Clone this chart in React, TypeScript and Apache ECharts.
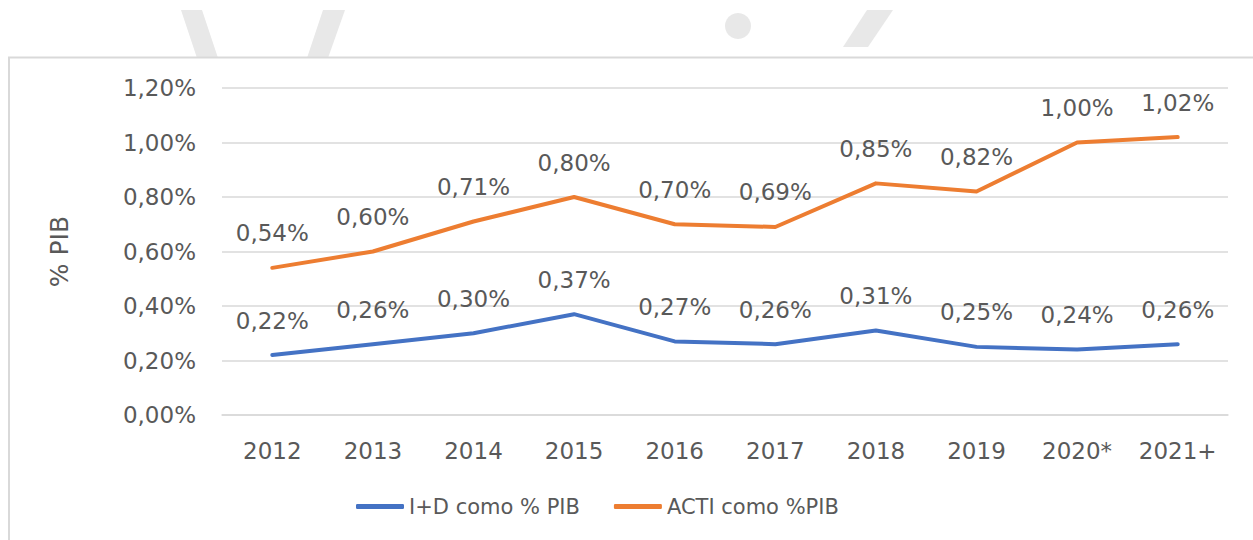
import React, { useEffect, useRef } from "react";
import * as echarts from "echarts";

const categories = ["2012", "2013", "2014", "2015", "2016", "2017", "2018", "2019", "2020*", "2021+"];
const idValues = [0.22, 0.26, 0.3, 0.37, 0.27, 0.26, 0.31, 0.25, 0.24, 0.26];
const actiValues = [0.54, 0.6, 0.71, 0.8, 0.7, 0.69, 0.85, 0.82, 1.0, 1.02];
const seriesNames = ["I+D como % PIB", "ACTI como %PIB"];
const yAxisName = "% PIB";

const FONT = "DejaVu Sans";
const TEXT = "#595959";
const fmt = (v: number) => v.toFixed(2).replace(".", ",") + "%";

export default function App() {
  const ref = useRef<HTMLDivElement>(null);
  useEffect(() => {
    if (!ref.current) return;
    const chart = echarts.init(ref.current, undefined, { renderer: "svg" });
    const wm = "#e8e8e8";
    const label = {
      show: true,
      position: "top",
      distance: 22,
      color: TEXT,
      fontSize: 23,
      fontFamily: FONT,
      formatter: (p: any) => fmt(p.value),
    };
    chart.setOption({
      animation: false,
      backgroundColor: "#ffffff",
      textStyle: { fontFamily: FONT },
      grid: { left: 222, right: 25, top: 88, bottom: 125 },
      graphic: [
        { type: "polygon", shape: { points: [[181, 10], [202, 10], [218, 58], [197, 58]] }, style: { fill: wm }, z: -10 },
        { type: "polygon", shape: { points: [[323, 10], [345, 10], [328, 58], [307, 58]] }, style: { fill: wm }, z: -10 },
        { type: "circle", shape: { cx: 738, cy: 26, r: 13 }, style: { fill: wm }, z: -10 },
        { type: "polygon", shape: { points: [[867, 10], [893, 10], [868, 47], [843, 47]] }, style: { fill: wm }, z: -10 },
        {
          type: "polyline",
          shape: { points: [[9, 560], [9, 57.5], [1270, 57.5]] },
          style: { stroke: "#d9d9d9", lineWidth: 2, fill: "none" },
          z: -5,
        },
      ],
      legend: {
        bottom: 18,
        left: 351,
        itemWidth: 48,
        itemHeight: 5,
        itemGap: 34,
        icon: "roundRect",
        textStyle: { color: TEXT, fontSize: 21, fontFamily: FONT },
        data: seriesNames,
      },
      xAxis: {
        type: "category",
        data: categories,
        boundaryGap: true,
        axisLine: { show: true, lineStyle: { color: "#d9d9d9", width: 1.5 } },
        axisTick: { show: false },
        axisLabel: { color: TEXT, fontSize: 23, fontFamily: FONT, margin: 24, interval: 0 },
      },
      yAxis: {
        type: "value",
        min: 0,
        max: 1.2,
        interval: 0.2,
        name: yAxisName,
        nameLocation: "middle",
        nameGap: 150,
        nameTextStyle: { color: TEXT, fontSize: 25, fontFamily: FONT },
        axisLine: { show: false },
        axisTick: { show: false },
        splitLine: { lineStyle: { color: "#d9d9d9", width: 1.5 } },
        axisLabel: { color: TEXT, fontSize: 23, fontFamily: FONT, margin: 26, formatter: (v: number) => fmt(v) },
      },
      series: [
        {
          name: seriesNames[0],
          type: "line",
          data: idValues,
          symbol: "circle",
          symbolSize: 2,
          color: "#4472C4",
          lineStyle: { width: 4, cap: "round", join: "round" },
          label,
        },
        {
          name: seriesNames[1],
          type: "line",
          data: actiValues,
          symbol: "circle",
          symbolSize: 2,
          color: "#ED7D31",
          lineStyle: { width: 4, cap: "round", join: "round" },
          label,
        },
      ],
    });
    return () => chart.dispose();
  }, []);
  return (
    <div
      ref={ref}
      style={{ position: "fixed", left: 0, top: 0, width: 1253, height: 540 }}
    />
  );
}
